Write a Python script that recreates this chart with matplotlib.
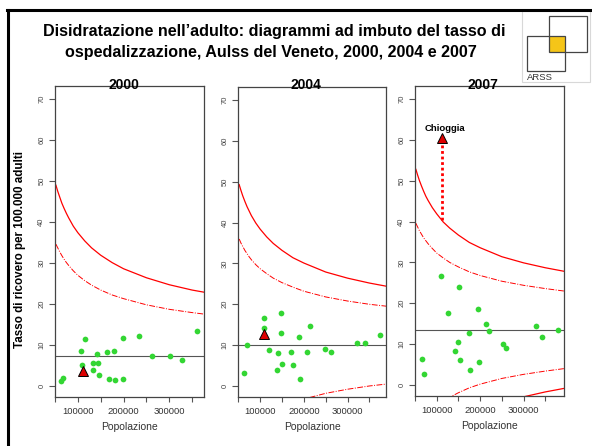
# Funnel plots: hospitalisation for dehydration in adults, Veneto Aulss
import matplotlib
matplotlib.use("Agg")
import matplotlib.pyplot as plt
from matplotlib.patches import Rectangle
from matplotlib.lines import Line2D

plt.rcParams['font.family'] = ['Liberation Sans', 'DejaVu Sans']

W, H = 592, 446

years = ["2000", "2004", "2007"]

# Aulss: population vs rate per 100.000 (green dots)
pop_2000 = [62400, 66700, 105900, 116700, 108000, 132600, 132600, 141300, 145000, 147200, 163900,
            178300, 168200, 182000, 199300, 199300, 234800, 262400, 301500, 328300, 361700]
rate_2000 = [1.2, 1.9, 8.6, 11.4, 5.0, 5.5, 3.8, 7.8, 5.7, 2.6, 8.2,
             8.6, 1.6, 1.4, 11.7, 1.8, 12.3, 7.2, 7.3, 6.4, 13.4]
pop_2004 = [62300, 69100, 109100, 107700, 120500, 140200, 138000, 147000, 147000, 150900, 169800,
            175000, 189500, 191800, 207700, 213000, 248600, 262300, 322000, 339500, 374300]
rate_2004 = [3.2, 10.1, 16.7, 14.3, 8.8, 8.1, 3.8, 17.8, 13.0, 5.3, 8.4,
             5.1, 12.1, 1.6, 8.2, 14.8, 9.0, 8.4, 10.5, 10.4, 12.4]
pop_2007 = [65900, 70500, 109800, 125000, 141600, 148400, 150700, 153000, 175000, 177300,
            194800, 197000, 213600, 220500, 253000, 259800, 328800, 342500, 378800]
rate_2007 = [6.3, 2.7, 26.8, 17.6, 8.4, 10.5, 24.0, 6.0, 12.7, 3.6,
             18.5, 5.6, 14.9, 13.3, 10.1, 9.1, 14.5, 11.7, 13.5]

# Chioggia (red triangle)
chioggia_pop = [110200, 109100, 111400]
chioggia_rate = [3.7, 12.7, 60.4]
# 2007: Chioggia is far above the 99.8% limit, dotted arrow from the limit
chioggia_arrow_from = 40.5

regional_rate = [7.35, 10.0, 13.5]

# funnel limits read at these populations
curve_pop = [52000, 56000, 60000, 65000, 70000, 75000, 80000, 90000, 100000, 115000, 130000,
             150000, 175000, 200000, 250000, 300000, 350000, 400000]
up998_2000 = [49.0, 47.5, 46.2, 44.6, 43.3, 42.1, 41.0, 39.0, 37.4, 35.4, 33.7,
              31.9, 30.1, 28.6, 26.4, 24.7, 23.4, 22.4]
up95_2000 = [34.6, 33.7, 32.8, 31.8, 30.9, 30.1, 29.4, 28.1, 27.0, 25.7, 24.6,
             23.4, 22.2, 21.3, 19.8, 18.7, 17.9, 17.2]
lo95_2000 = [-19.9, -19.0, -18.1, -17.1, -16.2, -15.4, -14.7, -13.4, -12.3, -11.0, -9.9,
             -8.7, -7.5, -6.6, -5.1, -4.0, -3.2, -2.5]
lo998_2000 = [-34.3, -32.8, -31.5, -29.9, -28.6, -27.4, -26.3, -24.3, -22.7, -20.7, -19.0,
              -17.2, -15.4, -13.9, -11.7, -10.0, -8.7, -7.7]
up998_2004 = [49.3, 47.9, 46.6, 45.2, 43.9, 42.8, 41.7, 39.9, 38.4, 36.5, 34.9,
              33.2, 31.4, 30.1, 27.9, 26.4, 25.2, 24.2]
up95_2004 = [36.0, 35.0, 34.2, 33.2, 32.4, 31.6, 30.9, 29.7, 28.7, 27.5, 26.4,
             25.3, 24.2, 23.2, 21.8, 20.8, 20.0, 19.4]
lo95_2004 = [-16.0, -15.0, -14.2, -13.2, -12.4, -11.6, -10.9, -9.7, -8.7, -7.5, -6.4,
             -5.3, -4.2, -3.2, -1.8, -0.8, 0.0, 0.6]
lo998_2004 = [-29.3, -27.9, -26.6, -25.2, -23.9, -22.8, -21.7, -19.9, -18.4, -16.5, -14.9,
              -13.2, -11.4, -10.1, -7.9, -6.4, -5.2, -4.2]
up998_2007 = [52.8, 51.4, 50.1, 48.7, 47.4, 46.2, 45.2, 43.4, 41.9, 39.9, 38.4,
              36.7, 34.9, 33.6, 31.4, 29.9, 28.7, 27.7]
up95_2007 = [39.6, 38.7, 37.8, 36.9, 36.0, 35.3, 34.6, 33.4, 32.3, 31.1, 30.0,
             28.9, 27.7, 26.8, 25.4, 24.4, 23.6, 22.9]
lo95_2007 = [-12.6, -11.7, -10.8, -9.9, -9.0, -8.3, -7.6, -6.4, -5.3, -4.1, -3.0,
             -1.9, -0.7, 0.2, 1.6, 2.6, 3.4, 4.1]
lo998_2007 = [-25.8, -24.4, -23.1, -21.7, -20.4, -19.2, -18.2, -16.4, -14.9, -12.9, -11.4,
              -9.7, -7.9, -6.6, -4.4, -2.9, -1.7, -0.7]

x_ticks = [50000, 100000, 150000, 200000, 250000, 300000, 350000]
x_ticklabels = ["", "100000", "", "200000", "", "300000", ""]
y_ticks = [0, 10, 20, 30, 40, 50, 60, 70]


def box(left, top, right, bottom):
    # pixel box -> figure fraction rect
    return [left / W, 1 - bottom / H, (right - left) / W, (bottom - top) / H]


def main():
    fig = plt.figure(figsize=(W / 100, H / 100), dpi=100)

    # slide frame
    fig.add_artist(Line2D([7 / W, 1], [1 - 9.5 / H] * 2, color="black", lw=2.2))
    fig.add_artist(Line2D([8.2 / W] * 2, [0, 1 - 9.5 / H], color="black", lw=2.2))

    fig.text(274 / W, 1 - 36 / H, "Disidratazione nell\u2019adulto: diagrammi ad imbuto del tasso di",
             ha="center", va="baseline", fontsize=11.6, fontweight="bold")
    fig.text(271 / W, 1 - 57 / H, "ospedalizzazione, Aulss del Veneto, 2000, 2004 e 2007",
             ha="center", va="baseline", fontsize=11.6, fontweight="bold")

    # ARSS logo
    fig.add_artist(Rectangle((522 / W, 1 - 82 / H), 68 / W, 71 / H, transform=fig.transFigure,
                             fill=False, ec="#d8d8d8", lw=0.8))
    fig.add_artist(Rectangle((549 / W, 1 - 52 / H), 16 / W, 16 / H, transform=fig.transFigure,
                             fc="#f5c518", ec="none"))
    fig.add_artist(Rectangle((549 / W, 1 - 52 / H), 38 / W, 36 / H, transform=fig.transFigure,
                             fill=False, ec="#444444", lw=0.9))
    fig.add_artist(Rectangle((527 / W, 1 - 71 / H), 38 / W, 35 / H, transform=fig.transFigure,
                             fill=False, ec="#444444", lw=0.9))
    fig.text(527 / W, 1 - 77 / H, "ARSS", ha="left", va="center", fontsize=6.8, color="#333333")

    panels = [
        (box(55, 86, 204, 397), (51500, 376000), 124, pop_2000, rate_2000,
         up998_2000, up95_2000, lo95_2000, lo998_2000),
        (box(238.3, 87, 386, 397), (52300, 388000), 306, pop_2004, rate_2004,
         up998_2004, up95_2004, lo95_2004, lo998_2004),
        (box(415, 86, 564, 396), (54500, 393000), 483, pop_2007, rate_2007,
         up998_2007, up95_2007, lo95_2007, lo998_2007),
    ]

    for i, (rect, xlim, title_x, pop, rate, u998, u95, l95, l998) in enumerate(panels):
        ax = fig.add_axes(rect)
        ax.plot(curve_pop, u998, color="red", lw=0.9)
        ax.plot(curve_pop, l998, color="red", lw=0.9)
        ax.plot(curve_pop, u95, color="red", lw=0.7, ls=(0, (6, 1.5, 1, 1.5)))
        ax.plot(curve_pop, l95, color="red", lw=0.7, ls=(0, (6, 1.5, 1, 1.5)))
        ax.axhline(regional_rate[i], color="#555555", lw=0.8)
        ax.scatter(pop, rate, s=17, color="#33d633", zorder=3, linewidths=0)
        if i == 2:
            ax.plot([chioggia_pop[i]] * 2, [chioggia_arrow_from, chioggia_rate[i] - 1.5],
                    color="red", lw=2, ls=(0, (1, 1)), zorder=3)
            ax.text(chioggia_pop[i] + 7000, chioggia_rate[i] + 2.5, "Chioggia", ha="center",
                    va="center", fontsize=6.8, fontweight="bold")
        ax.plot(chioggia_pop[i], chioggia_rate[i], marker="^", ms=6.5, color="#dd0000",
                mec="black", mew=0.7, zorder=4)

        ax.set_xlim(*xlim)
        ax.set_ylim(-2.7, 73.2)
        ax.set_xticks(x_ticks)
        ax.set_xticklabels(x_ticklabels)
        ax.set_yticks(y_ticks)
        ax.set_yticklabels([str(v) for v in y_ticks], rotation=90, va="center")
        ax.tick_params(axis="x", labelsize=6.8, colors="#555555", labelcolor="#333333", length=3.5,
                       width=0.8, pad=4)
        ax.tick_params(axis="y", labelsize=5.5, colors="#555555", labelcolor="#444444", length=4,
                       width=0.8, pad=3)
        for sp in ax.spines.values():
            sp.set_color("#444444")
            sp.set_linewidth(0.9)
        ax.set_xlabel("Popolazione", fontsize=7.5, color="#333333", labelpad=4)

        fig.text(title_x / W, 1 - 85 / H, years[i], ha="center", va="center",
                 fontsize=10, fontweight="bold", zorder=5)

    fig.text(20 / W, 1 - 249 / H, "Tasso di ricovero per 100.000 adulti", rotation=90,
             ha="center", va="center", fontsize=8.4, fontweight="bold")

    fig.savefig("out.png", dpi=100)


if __name__ == "__main__":
    main()
